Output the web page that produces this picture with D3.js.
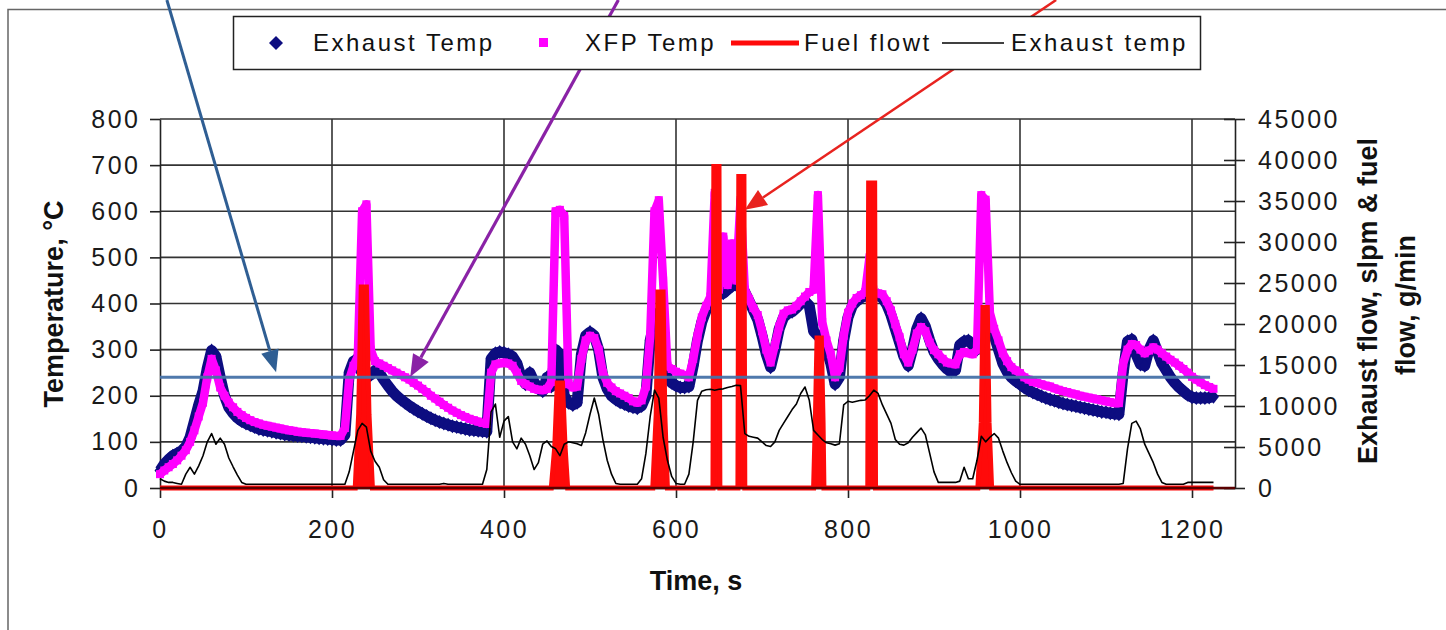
<!DOCTYPE html>
<html>
<head>
<meta charset="utf-8">
<script src="https://cdn.jsdelivr.net/npm/d3@7"></script>
<style>
  body { margin: 0; background: #fff; }
  svg text { font-family: "Liberation Sans", Arial, sans-serif; }
</style>
</head>
<body>
<svg id="chart" width="1446" height="630"></svg>
<script>
// Time base of the temperature / flow records, s (one sample every 5 s)
var times = d3.range(0, 1226, 5);

// XFP Temp, degC
var xfpTemp = [
  30,38,45,52,60,70,82,100,125,155,185,240,280,255,218,200,185,175,165,158,
  152,147,143,140,137,135,133,131,129,127,125,124,122,121,120,119,118,117,116,115,
  114,113,113,130,235,265,285,600,615,300,275,270,265,260,255,250,245,240,235,228,
  222,215,208,200,194,187,180,174,168,163,158,154,150,147,144,141,139,250,268,270,
  272,270,265,250,232,225,220,215,213,212,215,230,600,603,590,225,218,220,280,320,
  330,325,300,250,228,218,210,205,200,195,188,185,190,220,330,600,624,450,265,258,
  252,248,245,240,280,330,370,395,415,640,430,545,440,530,450,624,430,410,390,375,
  340,300,272,310,350,378,385,387,395,405,415,425,430,635,360,320,290,240,260,330,
  380,400,412,418,425,500,422,422,420,405,385,355,327,290,272,300,335,349,340,315,
  299,290,280,272,270,268,290,295,292,290,300,635,625,380,345,320,292,275,262,255,
  249,240,235,230,228,225,222,220,216,213,210,208,205,203,200,198,196,194,192,190,
  188,186,184,184,270,300,312,310,300,292,298,305,300,292,285,278,272,265,258,250,
  241,235,229,223,219,215
];

// Exhaust Temp, degC
var exhaustTemp = [
  38,52,62,70,75,80,90,110,145,180,210,260,298,285,240,200,175,162,152,145,
  140,136,132,128,126,124,122,120,118,116,115,114,113,112,111,110,109,108,107,106,
  105,104,104,115,250,275,265,250,240,245,255,250,235,222,210,200,192,185,178,172,
  166,161,156,151,147,143,140,137,134,132,130,128,126,125,124,123,122,280,292,295,
  293,290,285,270,240,225,250,230,215,210,240,220,300,290,200,185,180,185,290,330,
  338,330,300,240,215,200,192,186,182,178,175,173,178,200,320,360,380,300,240,228,
  222,218,218,220,265,320,360,385,405,415,420,422,430,438,440,440,425,405,385,365,
  330,290,262,300,345,370,378,382,390,400,405,395,340,330,320,300,270,225,240,320,
  370,395,405,412,418,420,420,418,412,398,375,345,315,285,265,300,345,368,350,320,
  295,280,268,258,252,255,310,318,320,310,300,320,330,340,330,300,270,252,240,232,
  225,218,212,207,203,199,195,192,189,186,183,181,179,177,175,173,171,169,167,165,
  164,162,161,160,250,318,322,290,268,265,300,320,295,270,255,240,228,218,210,202,
  197,195,195,195,196,198
];

// Exhaust flow, slpm (legend: "Exhaust temp")
var exhaustFlow = [
  1130,840,680,680,560,450,1690,2530,1690,2700,3940,5630,6640,5340,6080,5340,3660,2590,1580,680,
  450,450,450,450,450,450,450,450,450,450,450,450,450,450,450,450,450,450,450,450,
  450,450,450,450,1970,4500,7030,7880,7430,4500,3260,2530,1010,450,450,450,450,450,450,450,
  450,450,450,450,450,450,560,450,450,450,450,450,450,450,450,450,2250,9280,10240,6190,
  8160,8720,5630,4780,6080,5340,3940,2250,3090,5340,5740,5060,4780,3940,5340,5630,5510,5400,5180,6750,
  9000,10970,9000,5910,3380,1690,560,450,450,450,450,450,1130,4220,8720,11930,10970,6190,3380,1410,
  560,450,450,1690,5630,10690,11810,11980,12040,11930,12040,12090,12260,12380,12540,12490,6640,6300,6190,6080,
  5630,5180,5060,5630,7030,7880,8720,9560,10240,11530,12320,10690,7030,6470,5910,5510,5400,5230,5400,10130,
  10580,10460,10580,10690,10740,11250,11930,11530,10130,9000,7880,5910,5340,5230,5510,6190,6750,7310,6470,4220,
  1970,680,680,680,680,680,840,2530,1130,1130,3380,6300,5630,6190,6640,6080,4500,3090,1860,840,
  450,450,450,450,450,450,450,450,450,450,450,450,450,450,450,450,450,450,450,450,
  450,450,450,450,560,4780,7880,8160,7200,5340,4220,3090,1690,680,450,450,450,450,450,680,
  680,680,680,680,680,680
];

// Fuel flow pulses, g/min
var fuelTime = [0,227,231,234,240,243,247, 455,459,462,468,471,474, 573,577,579,585,587,590,
  643,644,650,651, 672,673,679,680, 760,762,764,769,771,772, 823,824,831,832,
  951,955,957,962,964,967, 1225];
var fuelFlow = [0,0,9000,24500,24500,9000,0, 0,5000,12800,12800,5000,0, 0,9000,23900,23900,9000,0,
  0,39200,39200,0, 0,38000,38000,0, 0,8000,18300,18300,8000,0, 0,37200,37200,0,
  0,8000,22000,22000,8000,0, 0];

var timeTicks = [0, 200, 400, 600, 800, 1000, 1200];
var tempTicks = [0, 100, 200, 300, 400, 500, 600, 700, 800];
var flowTicks = [0, 5000, 10000, 15000, 20000, 25000, 30000, 35000, 40000, 45000];
var thresholdTemp = 240;
var seriesNames = ['Exhaust Temp', 'XFP Temp', 'Fuel flowt', 'Exhaust temp'];

var svg = d3.select('#chart');

var x = d3.scaleLinear().domain([0, 1250]).range([160, 1235]);
var yT = d3.scaleLinear().domain([0, 800]).range([488, 119]);
var yF = d3.scaleLinear().domain([0, 45000]).range([488, 119]);
var plain = d3.format('d');

// outer chart frame (only top and left edges are in the picture)
svg.append('path')
  .attr('d', 'M8,630V9.5H1446')
  .attr('fill', 'none')
  .attr('stroke', '#666')
  .attr('stroke-width', 1.5);

// gridlines
svg.append('g').selectAll('line')
  .data(tempTicks.slice(1))
  .enter().append('line')
  .attr('x1', x(0)).attr('x2', x(1250))
  .attr('y1', d => yT(d)).attr('y2', d => yT(d))
  .attr('stroke', '#333').attr('stroke-width', 1.6);

svg.append('g').selectAll('line')
  .data(timeTicks.slice(1))
  .enter().append('line')
  .attr('x1', d => x(d)).attr('x2', d => x(d))
  .attr('y1', yT(0)).attr('y2', yT(800))
  .attr('stroke', '#333').attr('stroke-width', 1.6);

// axes
function styleAxis(g) {
  g.select('.domain').attr('stroke', '#222').attr('stroke-width', 1.6);
  g.selectAll('.tick line').attr('stroke', '#222').attr('stroke-width', 1.6);
  g.selectAll('.tick text')
    .attr('fill', '#1a1a1a')
    .style('font-size', '25px')
    .style('letter-spacing', '2.5px');
}

var leftAxis = svg.append('g')
  .attr('transform', 'translate(' + x(0) + ',0)')
  .call(d3.axisLeft(yT).tickValues(tempTicks).tickFormat(plain)
    .tickSize(10).tickSizeOuter(0).tickPadding(12))
  .call(styleAxis);
leftAxis.selectAll('.tick text').attr('dx', '2.5px');

var rightAxis = svg.append('g')
  .attr('transform', 'translate(' + x(1250) + ',0)')
  .call(d3.axisRight(yF).tickValues(flowTicks).tickFormat(plain)
    .tickSize(10).tickSizeOuter(0).tickPadding(13))
  .call(styleAxis);
rightAxis.selectAll('.tick line').attr('x1', -11);

svg.append('g')
  .attr('transform', 'translate(0,' + yT(0) + ')')
  .call(d3.axisBottom(x).tickValues(timeTicks).tickFormat(plain)
    .tickSize(10).tickSizeOuter(0).tickPadding(22))
  .call(styleAxis);

// axis titles
svg.append('text')
  .attr('transform', 'translate(63,304) rotate(-90)')
  .attr('text-anchor', 'middle')
  .attr('font-weight', 'bold')
  .attr('fill', '#111')
  .style('font-size', '27px')
  .text('Temperature, \u00B0C');

svg.append('text')
  .attr('transform', 'translate(1377,301) rotate(-90)')
  .attr('text-anchor', 'middle')
  .attr('font-weight', 'bold')
  .attr('fill', '#111')
  .style('font-size', '27px')
  .text('Exhaust flow, slpm & fuel');

svg.append('text')
  .attr('transform', 'translate(1415,305) rotate(-90)')
  .attr('text-anchor', 'middle')
  .attr('font-weight', 'bold')
  .attr('fill', '#111')
  .style('font-size', '27px')
  .text('flow, g/min');

svg.append('text')
  .attr('x', 696).attr('y', 590)
  .attr('text-anchor', 'middle')
  .attr('font-weight', 'bold')
  .attr('fill', '#111')
  .style('font-size', '27px')
  .text('Time, s');

// series
var diamond = 'M0,-7L5.5,0L0,7L-5.5,0Z';
var navy = '#0d0d80';
var magenta = '#ff00ff';

var exhaustPts = times.map((t, i) => [t, exhaustTemp[i]]);
var xfpPts = times.map((t, i) => [t, xfpTemp[i]]);
var flowPts = times.map((t, i) => [t, exhaustFlow[i]]);
var fuelPts = fuelTime.map((t, i) => [t, fuelFlow[i]]);

var tempLine = d3.line().x(d => x(d[0])).y(d => yT(d[1]));
var flowLine = d3.line().x(d => x(d[0])).y(d => yF(d[1]));

// Exhaust Temp: dense diamond markers
svg.append('path')
  .attr('d', tempLine(exhaustPts))
  .attr('fill', 'none').attr('stroke', navy)
  .attr('stroke-width', 11).attr('stroke-linejoin', 'round');
svg.append('g').selectAll('path')
  .data(exhaustPts)
  .enter().append('path')
  .attr('d', diamond)
  .attr('transform', d => 'translate(' + x(d[0]) + ',' + yT(d[1]) + ')')
  .attr('fill', navy);

// XFP Temp: dense square markers
svg.append('path')
  .attr('d', tempLine(xfpPts))
  .attr('fill', 'none').attr('stroke', magenta)
  .attr('stroke-width', 8.5).attr('stroke-linejoin', 'round');
svg.append('g').selectAll('rect')
  .data(xfpPts)
  .enter().append('rect')
  .attr('x', d => x(d[0]) - 4).attr('y', d => yT(d[1]) - 4)
  .attr('width', 8).attr('height', 8)
  .attr('fill', magenta);

// Fuel flow: thick red line (pulses drawn solid)
svg.append('path')
  .attr('d', d3.area().x(d => x(d[0])).y0(yF(0)).y1(d => yF(d[1]))(fuelPts))
  .attr('fill', '#ff0a0a');
svg.append('path')
  .attr('d', flowLine(fuelPts))
  .attr('fill', 'none').attr('stroke', '#ff0a0a')
  .attr('stroke-width', 5).attr('stroke-linejoin', 'miter');

// x axis line shows through the zero fuel line
svg.append('line')
  .attr('x1', x(0)).attr('x2', x(1250))
  .attr('y1', yT(0)).attr('y2', yT(0))
  .attr('stroke', '#5a0000').attr('stroke-width', 2.5);

// Exhaust flow: thin black line
svg.append('path')
  .attr('d', flowLine(flowPts))
  .attr('fill', 'none').attr('stroke', '#000')
  .attr('stroke-width', 1.6).attr('stroke-linejoin', 'round');

// annotation: 240 degC threshold line
svg.append('line')
  .attr('x1', x(0)).attr('x2', x(1221))
  .attr('y1', yT(thresholdTemp)).attr('y2', yT(thresholdTemp))
  .attr('stroke', '#4672a8').attr('stroke-width', 3).attr('opacity', 0.95);

// annotation arrows, ends given in chart units
function arrow(from, to, color, width) {
  var x1 = x(from[0]), y1 = yT(from[1]), x2 = x(to[0]), y2 = yT(to[1]);
  var len = Math.hypot(x2 - x1, y2 - y1);
  var ux = (x2 - x1) / len, uy = (y2 - y1) / len;
  var head = 22, half = 9;
  var bx = x2 - ux * head, by = y2 - uy * head;
  svg.append('line')
    .attr('x1', x1).attr('y1', y1).attr('x2', bx).attr('y2', by)
    .attr('stroke', color).attr('stroke-width', width);
  svg.append('path')
    .attr('d', 'M' + x2 + ',' + y2 +
      'L' + (bx - uy * half) + ',' + (by + ux * half) +
      'L' + (bx + uy * half) + ',' + (by - ux * half) + 'Z')
    .attr('fill', color);
}
arrow([8, 1058], [135, 251], '#2f5e93', 3);
arrow([533, 1058], [291, 241], '#8a22a6', 3.2);
arrow([1042, 1058], [680, 603], '#e8231f', 2.5);

// legend
var legend = svg.append('g');
legend.append('rect')
  .attr('x', 233.5).attr('y', 16.5)
  .attr('width', 967).attr('height', 53)
  .attr('fill', '#fff').attr('stroke', '#222').attr('stroke-width', 1.5);

var legendX = [313, 585, 804, 1011];
legend.selectAll('text')
  .data(seriesNames)
  .enter().append('text')
  .attr('x', (d, i) => legendX[i]).attr('y', 51)
  .attr('fill', '#111')
  .style('font-size', '24px')
  .style('letter-spacing', '2.5px')
  .text(d => d);

legend.append('path')
  .attr('d', 'M0,-7L7,0L0,7L-7,0Z')
  .attr('transform', 'translate(276,43)')
  .attr('fill', navy);
legend.append('rect')
  .attr('x', 539).attr('y', 38).attr('width', 9).attr('height', 9)
  .attr('fill', magenta);
legend.append('line')
  .attr('x1', 731).attr('x2', 799).attr('y1', 43).attr('y2', 43)
  .attr('stroke', '#ff0a0a').attr('stroke-width', 5);
legend.append('line')
  .attr('x1', 942).attr('x2', 1004).attr('y1', 43).attr('y2', 43)
  .attr('stroke', '#000').attr('stroke-width', 1.6);
</script>
</body>
</html>
